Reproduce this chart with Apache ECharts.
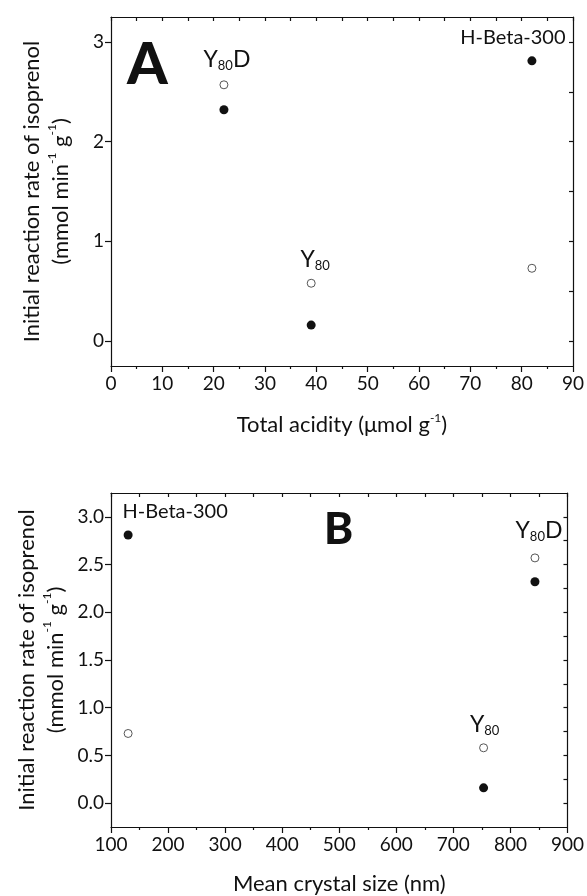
<!DOCTYPE html>
<html>
<head>
<meta charset="utf-8">
<script src="https://cdn.jsdelivr.net/npm/echarts@6/dist/echarts.min.js"></script>
<style>
  html, body { margin: 0; padding: 0; background: #fff; }
  #chart { width: 587px; height: 896px; }
</style>
</head>
<body>
<div id="chart"></div>
<script>
// samples and measured values
const samples = ['H-Beta-300', 'Y80', 'Y80D']
const acidity = [82, 39, 22]          // umol/g
const crystalSize = [130, 753, 843]   // nm
const rateFilled = [2.81, 0.16, 2.32] // filled circles
const rateOpen = [0.73, 0.58, 2.57]   // open circles

// tick labels
const ticksA_y = [0, 1, 2, 3]
const ticksA_yMinor = [0, 0.5, 1, 1.5, 2, 2.5, 3]
const ticksB_y = [0, 0.5, 1, 1.5, 2, 2.5, 3]
const ticksB_yMinor = [0, 0.25, 0.5, 0.75, 1, 1.25, 1.5, 1.75, 2, 2.25, 2.5, 2.75, 3]

const FONT = 'Lato'
const INK = '#111'

const nameRich = {
    a: { fontSize: 22, fontFamily: FONT, color: INK, lineHeight: 29 },
    sup: { fontSize: 12, fontFamily: FONT, color: INK, verticalAlign: 'top', lineHeight: 12 }
}
const xNameRich = {
    a: { fontSize: 22, fontFamily: FONT, color: INK, lineHeight: 26 },
    sup: { fontSize: 12, fontFamily: FONT, color: INK, verticalAlign: 'top', lineHeight: 12 }
}
const yName = '{a|Initial reaction rate of isoprenol}\n{a|(mmol min}{sup|-1}{a| g}{sup|-1}{a|)}'

const annRich = {
    t: { fontSize: 23, fontFamily: FONT, color: INK, lineHeight: 26 },
    h: { fontSize: 20, fontFamily: FONT, color: INK, lineHeight: 26 },
    s: { fontSize: 13, fontFamily: FONT, color: INK, verticalAlign: 'bottom', lineHeight: 13 }
}
const annText = {
    'H-Beta-300': '{h|H-Beta-300}',
    'Y80': '{t|Y}{s|80}',
    'Y80D': '{t|Y}{s|80}{t|D}'
}

// where each sample's text sits relative to its point
const labelCfg = {
    A: {
        filled: { 'H-Beta-300': { offset: [-19, 0], distance: 6 } },
        open: { 'Y80': { offset: [4, 0], distance: 6 }, 'Y80D': { offset: [3, 0], distance: 8 } }
    },
    B: {
        filled: { 'H-Beta-300': { offset: [47, 0], distance: 6 } },
        open: { 'Y80': { offset: [1, 0], distance: 6 }, 'Y80D': { offset: [4, 0], distance: 10 } }
    }
}

function makeData(xs, ys, cfg) {
    return samples.map((name, i) => {
        const item = { name: name, value: [xs[i], ys[i]] }
        if (cfg[name]) {
            item.label = {
                show: true, position: 'top', color: INK,
                offset: cfg[name].offset, distance: cfg[name].distance,
                formatter: annText[name], rich: annRich
            }
        }
        return item
    })
}

function seriesPair(xi, yi, xs, panel) {
    return [
        {
            type: 'scatter', xAxisIndex: xi, yAxisIndex: yi,
            symbol: 'circle', symbolSize: 9,
            itemStyle: { color: '#111', opacity: 1 },
            data: makeData(xs, rateFilled, labelCfg[panel].filled)
        },
        {
            type: 'scatter', xAxisIndex: xi, yAxisIndex: yi,
            symbol: 'circle', symbolSize: 8,
            itemStyle: { color: '#fff', borderColor: '#555', borderWidth: 1, opacity: 1 },
            data: makeData(xs, rateOpen, labelCfg[panel].open)
        }
    ]
}

const lineStyle = { color: INK, width: 1.2 }
const tickLabel = { fontSize: 19, fontFamily: FONT, color: INK }

let chartDom = document.getElementById('chart')
let myChart = echarts.init(chartDom)
myChart.setOption({
    animation: false,
    title: [
        { text: 'A', left: 122, top: 31, textStyle: { fontSize: 58, fontWeight: 900, fontFamily: FONT, color: '#111' } },
        { text: 'B', left: 319, top: 503, textStyle: { fontSize: 44, fontWeight: 900, fontFamily: FONT, color: '#111' } }
    ],
    grid: [
        { left: 111, right: 12, top: 17, height: 349 },
        { left: 111, right: 17, top: 493, height: 337 }
    ],
    xAxis: [
        {
            gridIndex: 0, type: 'value', min: 0, max: 90, interval: 10,
            axisLine: { onZero: false, lineStyle: lineStyle },
            axisTick: { length: 6, lineStyle: lineStyle },
            minorTick: { show: true, splitNumber: 2, length: 3, lineStyle: lineStyle },
            axisLabel: Object.assign({ margin: 8 }, tickLabel),
            splitLine: { show: false },
            name: '{a|Total acidity (μmol g}{sup|-1}{a|)}',
            nameLocation: 'middle', nameGap: 46,
            nameTextStyle: { rich: xNameRich }
        },
        {
            gridIndex: 0, type: 'value', position: 'top', min: 0, max: 90, interval: 5,
            axisLine: { onZero: false, lineStyle: lineStyle },
            axisTick: { inside: true, length: 4, lineStyle: lineStyle },
            axisLabel: { show: false }, splitLine: { show: false }
        },
        {
            gridIndex: 1, type: 'value', min: 100, max: 900, interval: 100,
            axisLine: { onZero: false, lineStyle: lineStyle },
            axisTick: { length: 6, lineStyle: lineStyle },
            minorTick: { show: true, splitNumber: 2, length: 3, lineStyle: lineStyle },
            axisLabel: Object.assign({ margin: 8 }, tickLabel),
            splitLine: { show: false },
            name: '{a|Mean crystal size (nm)}',
            nameLocation: 'middle', nameGap: 44,
            nameTextStyle: { rich: xNameRich }
        },
        {
            gridIndex: 1, type: 'value', position: 'top', min: 100, max: 900, interval: 50,
            axisLine: { onZero: false, lineStyle: lineStyle },
            axisTick: { inside: true, length: 4, lineStyle: lineStyle },
            axisLabel: { show: false }, splitLine: { show: false }
        }
    ],
    yAxis: [
        {
            gridIndex: 0, type: 'value', min: -0.25, max: 3.25,
            axisLine: { show: true, onZero: false, lineStyle: lineStyle },
            axisTick: { show: true, length: 6, customValues: ticksA_y, lineStyle: lineStyle },
            axisLabel: Object.assign({ margin: 7, customValues: ticksA_y }, tickLabel),
            splitLine: { show: false },
            name: yName, nameLocation: 'middle', nameGap: 36,
            nameTextStyle: { rich: nameRich }
        },
        {
            gridIndex: 0, type: 'value', position: 'right', min: -0.25, max: 3.25,
            axisLine: { show: true, onZero: false, lineStyle: lineStyle },
            axisTick: { show: true, inside: true, length: 4, customValues: ticksA_yMinor, lineStyle: lineStyle },
            axisLabel: { show: false }, splitLine: { show: false }
        },
        {
            gridIndex: 1, type: 'value', min: -0.25, max: 3.25,
            axisLine: { show: true, onZero: false, lineStyle: lineStyle },
            axisTick: { show: true, length: 6, customValues: ticksB_y, lineStyle: lineStyle },
            axisLabel: Object.assign({
                margin: 7, customValues: ticksB_y,
                formatter: v => v.toFixed(1)
            }, tickLabel),
            splitLine: { show: false },
            name: yName, nameLocation: 'middle', nameGap: 36,
            nameTextStyle: { rich: nameRich }
        },
        {
            gridIndex: 1, type: 'value', position: 'right', min: -0.25, max: 3.25,
            axisLine: { show: true, onZero: false, lineStyle: lineStyle },
            axisTick: { show: true, inside: true, length: 4, customValues: ticksB_yMinor, lineStyle: lineStyle },
            axisLabel: { show: false }, splitLine: { show: false }
        }
    ],
    series: [].concat(
        seriesPair(0, 0, acidity, 'A'),
        seriesPair(2, 2, crystalSize, 'B')
    )
})
</script>
</body>
</html>
